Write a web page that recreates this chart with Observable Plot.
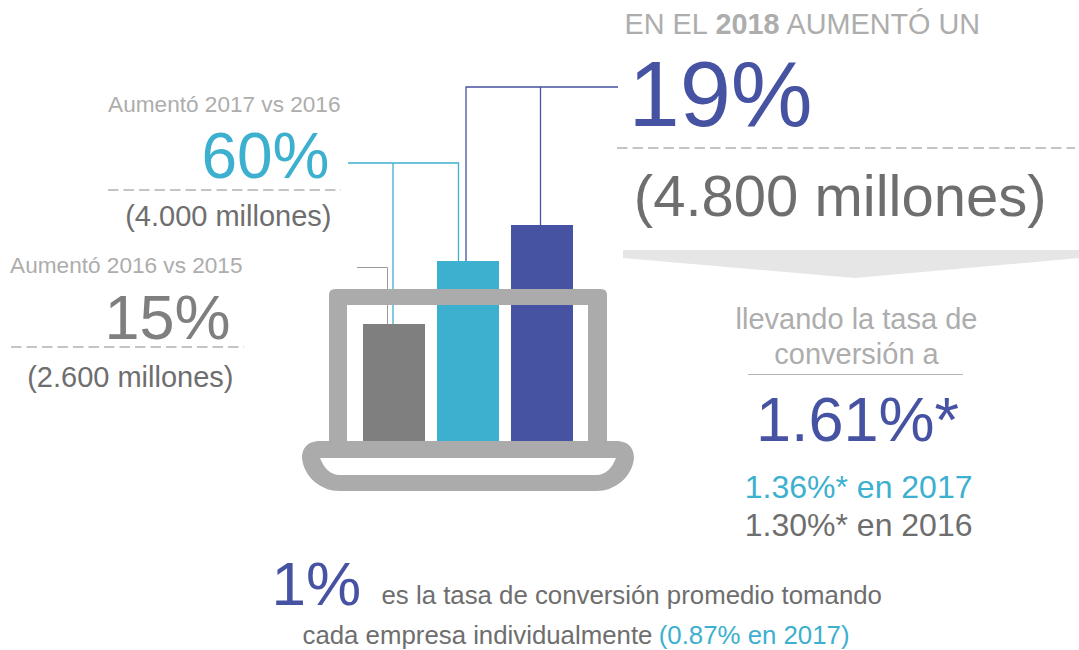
<!DOCTYPE html>
<html lang="es">
<head>
<meta charset="utf-8">
<style>html,body{margin:0;padding:0;background:#fff}svg{display:block}</style>
<script src="https://cdn.jsdelivr.net/npm/d3@7"></script>
<script src="https://cdn.jsdelivr.net/npm/@observablehq/plot@0.6"></script>
</head>
<body>
<script>
// Data
const years = ["2016", "2017", "2018"];
const millones = [2600, 4000, 4800];
const barColors = ["#7f7f7f", "#3cb0ce", "#4652a2"];

// Palette
const BLUE = "#4652a2", TEAL = "#3cb0ce", DARK = "#6e6e6e", MID = "#7f7f7f", LIGHT = "#adadad", FRAME = "#ababab";

// Text annotations: text, x, baseline, size, colour, anchor, weight
const labels = [
  ["Aumentó 2017 vs 2016", 340, 111, 22.6, LIGHT, "end"],
  ["60%", 329, 177, 64, TEAL, "end"],
  ["(4.000 millones)", 331, 225, 29, DARK, "end"],
  ["Aumentó 2016 vs 2015", 242, 272, 22.6, LIGHT, "end"],
  ["15%", 230, 338, 63, MID, "end"],
  ["(2.600 millones)", 233, 386, 29, DARK, "end"],
  ["EN EL", 624, 33, 28.8, LIGHT, "start"],
  ["2018", 715, 33, 28.8, LIGHT, "start", "bold"],
  ["AUMENTÓ UN", 786, 33, 28.8, LIGHT, "start"],
  ["19%", 628, 125, 92, BLUE, "start"],
  ["(4.800 millones)", 1046, 215, 58, DARK, "end"],
  ["llevando la tasa de", 856, 328, 29, LIGHT, "middle"],
  ["conversión a", 856, 363, 29, LIGHT, "middle"],
  ["1.61%*", 857, 440, 63, BLUE, "middle"],
  ["1.36%* en 2017", 972, 497, 32, TEAL, "end"],
  ["1.30%* en 2016", 972, 535, 32, DARK, "end"],
  ["1%", 271, 604, 62, BLUE, "start"],
  ["es la tasa de conversión promedio tomando", 381, 603, 25.8, DARK, "start"],
  ["cada empresa individualmente", 302, 643, 25.8, DARK, "start"],
  ["(0.87% en 2017)", 849, 643, 25.8, TEAL, "end"]
];

const textMark = ([t, x, y, size, fill, anchor, weight]) =>
  Plot.text([t], {
    text: (d) => d, frameAnchor: "top-left", dx: x, dy: y,
    textAnchor: anchor, lineAnchor: "bottom",
    fontSize: size, fill, fontWeight: weight ?? "normal"
  });

// Leader lines, tied to the bar tops through the scales
const leaders = (index, {x, y}) => {
  const g = d3.create("svg:g").attr("fill", "none");
  const top = (i) => y(millones[i]);
  const path = (d, stroke, w = 1.3) => g.append("path").attr("d", d).attr("stroke", stroke).attr("stroke-width", w);
  path(`M357 267.5H387.5V${top(0)}`, "#9a9a9a", 1);
  path(`M348 163H458.5V${top(1)}M393 163V${top(0)}`, TEAL);
  path(`M618 87H466V${top(1)}M540.5 87V${top(2)}`, BLUE);
  return g.node();
};

// Laptop drawn over the bars
const laptop = () => {
  const g = d3.create("svg:g").attr("fill", FRAME).attr("fill-rule", "evenodd");
  g.append("path").attr("d",
    "M335 289H601Q607 289 607 295V445H588V305H347V445H329V295Q329 289 335 289Z");
  g.append("path").attr("d",
    "M320 441H616C630 441 634 450 634 458C632 478 614 491 597 491H339C322 491 304 478 302 458C302 450 306 441 320 441Z" +
    "M320 458H616C612 468 606 475 596 475H340C330 475 324 468 320 458Z");
  return g.node();
};

// Pennant and rules
const pennant = () => d3.create("svg:polygon")
  .attr("points", "623,250 1079,250 1079,258 855,278 623,258").attr("fill", "#e6e6e6").node();

const rules = () => {
  const g = d3.create("svg:g").attr("fill", "none");
  const line = (x1, x2, y, stroke, dash) => g.append("line")
    .attr("x1", x1).attr("x2", x2).attr("y1", y).attr("y2", y)
    .attr("stroke", stroke).attr("stroke-dasharray", dash);
  line(108, 341, 190, "#8a8a8a", "10.5 5");
  line(11, 244, 347, "#8a8a8a", "10.5 5");
  line(617, 1075, 148, "#8a8a8a", "10.5 5");
  line(748, 963, 374.5, "#b5b5b5", null);
  return g.node();
};

const table = years.map((year, i) => ({year, value: millones[i], color: barColors[i]}));

const chart = Plot.plot({
  width: 1079, height: 650,
  margin: 0,
  style: {fontFamily: "'Liberation Sans', Arial, sans-serif", background: "#fff", overflow: "hidden"},
  x: {type: "band", domain: years, range: [363, 573], paddingInner: 0.162, paddingOuter: 0, round: false, axis: null},
  y: {domain: [0, 4800], range: [441, 225], axis: null},
  marks: [
    pennant,
    rules,
    leaders,
    Plot.barY(table, {x: "year", y: "value", fill: "color"}),
    laptop,
    ...labels.map(textMark)
  ]
});
document.body.appendChild(chart);
</script>
</body>
</html>
